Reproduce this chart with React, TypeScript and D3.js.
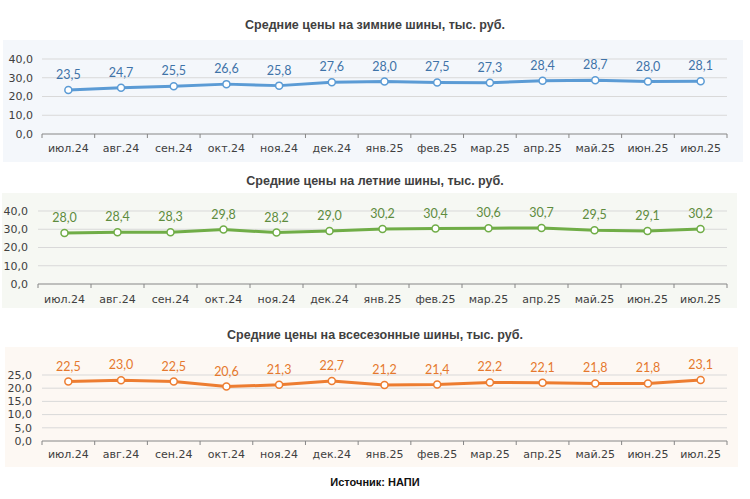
import React from "react";
import * as d3 from "d3";

const months = ["июл.24","авг.24","сен.24","окт.24","ноя.24","дек.24","янв.25","фев.25","мар.25","апр.25","май.25","июн.25","июл.25"];
const winter = [23.5,24.7,25.5,26.6,25.8,27.6,28.0,27.5,27.3,28.4,28.7,28.0,28.1];
const summer = [28.0,28.4,28.3,29.8,28.2,29.0,30.2,30.4,30.6,30.7,29.5,29.1,30.2];
const allSeason = [22.5,23.0,22.5,20.6,21.3,22.7,21.2,21.4,22.2,22.1,21.8,21.8,23.1];
const winterTicks = [0,10,20,30,40];
const summerTicks = [0,10,20,30,40];
const allTicks = [0,5,10,15,20,25];

const titles = [
  "Средние цены на зимние шины, тыс. руб.",
  "Средние цены на летние шины, тыс. руб.",
  "Средние цены на всесезонные шины, тыс. руб.",
];

const fmt = (v: number) => v.toFixed(1).replace(".", ",");

type PanelProps = {
  title: string; titleY: number;
  bg: [number, number, number, number]; bgColor: string;
  left: number; right: number; y0: number; yTop: number; maxV: number;
  ticks: number[]; values: number[];
  line: string; labelColor: string; labelY: number; yLabelX: number;
};

function Panel(p: PanelProps) {
  const x = d3.scaleBand<string>().domain(months).range([p.left, p.right]);
  const y = d3.scaleLinear().domain([0, p.maxV]).range([p.y0, p.yTop]);
  const cx = (m: string) => (x(m) as number) + x.bandwidth() / 2;
  const path = d3.line<number>().x((_, i) => cx(months[i])).y(v => y(v))(p.values) as string;
  const font = "Tahoma, 'DejaVu Sans', sans-serif";
  return (
    <g>
      <rect x={p.bg[0]} y={p.bg[1]} width={p.bg[2] - p.bg[0]} height={p.bg[3] - p.bg[1]} fill={p.bgColor} />
      <text x={375} y={p.titleY} textAnchor="middle" fontFamily="'Liberation Sans', Arial, sans-serif" fontWeight="bold" fontSize={12.5} fill="#404040">{p.title}</text>
      {p.ticks.filter(t => t > 0).map(t => (
        <line key={t} x1={p.left} x2={p.right} y1={y(t)} y2={y(t)} stroke="#d9d9d9" strokeWidth={1} />
      ))}
      {p.ticks.map(t => (
        <text key={"l" + t} x={p.yLabelX} y={y(t)} dy="0.35em" textAnchor="end" fontFamily={font} fontSize={11} fill="#404040">{fmt(t)}</text>
      ))}
      <line x1={p.left} x2={p.right} y1={p.y0} y2={p.y0} stroke="#868686" strokeWidth={1} />
      {months.map(m => (
        <line key={"t" + m} x1={x(m) as number} x2={x(m) as number} y1={p.y0} y2={p.y0 + 4} stroke="#868686" />
      ))}
      <line x1={p.right} x2={p.right} y1={p.y0} y2={p.y0 + 4} stroke="#868686" />
      {months.map(m => (
        <text key={"x" + m} x={cx(m)} y={p.labelY} dy="0.35em" textAnchor="middle" fontFamily={font} fontSize={11} fill="#404040">{m}</text>
      ))}
      <path d={path} fill="none" stroke={p.line} strokeWidth={3} strokeLinejoin="round" />
      {p.values.map((v, i) => (
        <circle key={"c" + i} cx={cx(months[i])} cy={y(v)} r={3.5} fill="#fff" stroke={p.line} strokeWidth={1.5} />
      ))}
      {p.values.map((v, i) => (
        <text key={"v" + i} x={cx(months[i])} y={y(v) - 11} textAnchor="middle" fontFamily="Lato, 'Open Sans', sans-serif" fontSize={12.5} fill={p.labelColor}>{fmt(v)}</text>
      ))}
    </g>
  );
}

export default function App() {
  return (
    <svg width={750} height={499} style={{ position: "absolute", left: 0, top: 0, background: "#fff" }}>
      <Panel title={titles[0]} titleY={29} bg={[3, 40, 743, 162]} bgColor="#f4f7fb"
        left={42} right={727} y0={134} yTop={59} maxV={40} ticks={winterTicks} values={winter}
        line="#5b9bd5" labelColor="#3f73a8" labelY={148} yLabelX={33} />
      <Panel title={titles[1]} titleY={185} bg={[2, 193, 737, 308]} bgColor="#f6f8f3"
        left={38} right={727} y0={284} yTop={211} maxV={40} ticks={summerTicks} values={summer}
        line="#70ad47" labelColor="#5e8c3e" labelY={299} yLabelX={28} />
      <Panel title={titles[2]} titleY={339} bg={[5, 347, 738, 467]} bgColor="#fdf8f3"
        left={42} right={727} y0={441} yTop={375} maxV={25} ticks={allTicks} values={allSeason}
        line="#ed7d31" labelColor="#e5782e" labelY={454} yLabelX={32} />
      <text x={375} y={486} textAnchor="middle" fontFamily="'Liberation Sans', Arial, sans-serif" fontSize={11} fontWeight="bold" fill="#111">Источник: НАПИ</text>
    </svg>
  );
}
